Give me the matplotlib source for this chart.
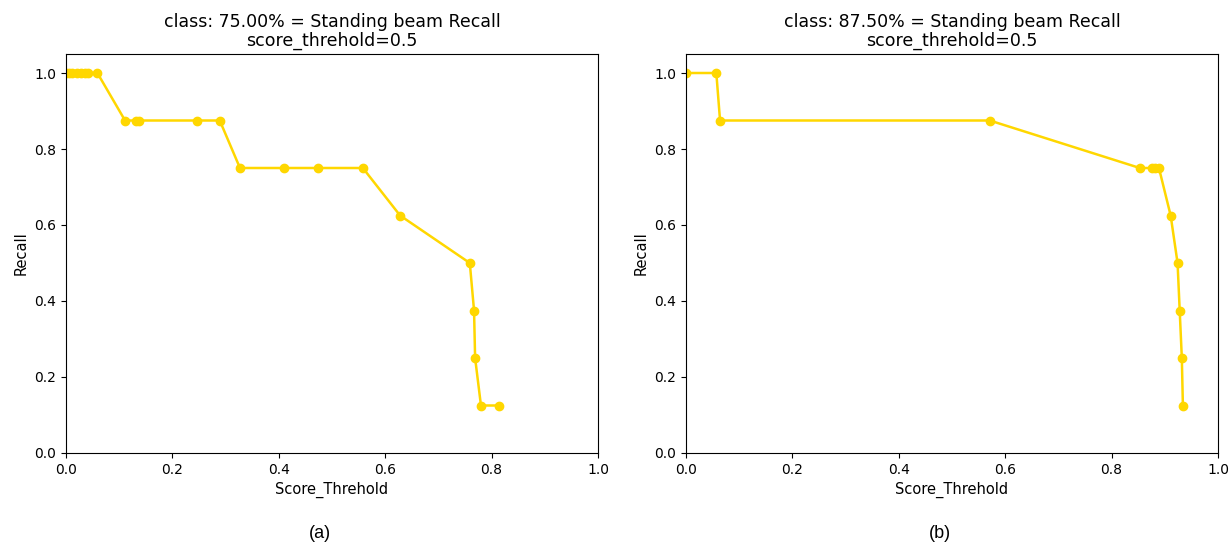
import matplotlib
matplotlib.use("Agg")
import matplotlib.pyplot as plt

color = "#FFD700"

a_x = [0.0, 0.006, 0.012, 0.02, 0.028, 0.035, 0.042, 0.059, 0.111, 0.131, 0.137, 0.246, 0.289,
       0.327, 0.410, 0.474, 0.558, 0.628, 0.759, 0.767, 0.769, 0.780, 0.814]
a_y = [1.0, 1.0, 1.0, 1.0, 1.0, 1.0, 1.0, 1.0, 0.875, 0.875, 0.875, 0.875, 0.875,
       0.75, 0.75, 0.75, 0.75, 0.625, 0.5, 0.375, 0.25, 0.125, 0.125]

b_x = [0.0, 0.057, 0.064, 0.571, 0.853, 0.876, 0.882, 0.889, 0.911, 0.924, 0.928, 0.932, 0.934]
b_y = [1.0, 1.0, 0.875, 0.875, 0.75, 0.75, 0.75, 0.75, 0.625, 0.5, 0.375, 0.25, 0.125]

titles = ["class: 75.00% = Standing beam Recall\nscore_threhold=0.5",
          "class: 87.50% = Standing beam Recall\nscore_threhold=0.5"]
captions = ["(a)", "(b)"]

fig = plt.figure(figsize=(12.32, 5.46), dpi=100)
lefts = [66 / 1232, 686 / 1232]
w = 532 / 1232
bottom = (546 - 453) / 546
h = 399 / 546
for i, (xs, ys) in enumerate([(a_x, a_y), (b_x, b_y)]):
    ax = fig.add_axes([lefts[i], bottom, w, h])
    ax.plot(xs, ys, color=color, marker="o", markersize=6, linewidth=1.8)
    ax.set_xlim(0, 1.0)
    ax.set_ylim(0, 1.05)
    ax.set_xlabel("Score_Threhold", fontsize=10.5)
    ax.set_ylabel("Recall", fontsize=10.5)
    ax.set_title(titles[i], fontsize=12.5, linespacing=1.05, pad=6)
    ax.tick_params(labelsize=10)
    fig.text(lefts[i] + w / 2 - 0.01, (546 - 533) / 546, captions[i], ha="center", va="center", fontsize=13,
             family="Liberation Sans")

fig.savefig("out.png", dpi=100)
